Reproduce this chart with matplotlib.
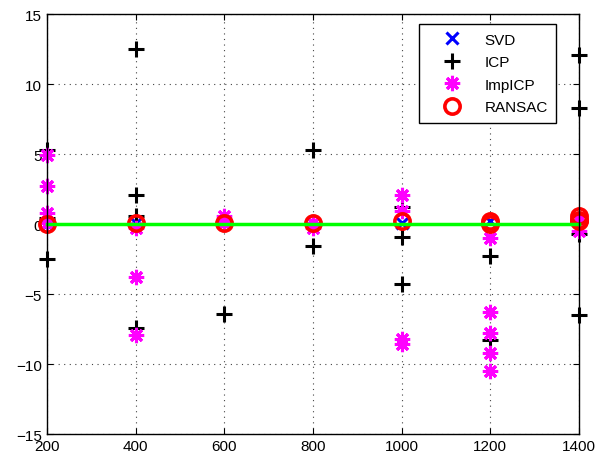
import numpy as np
import matplotlib.pyplot as plt

plt.rcParams['font.family'] = ['Liberation Sans', 'DejaVu Sans']

# x positions / values
svd_x = [200, 400, 600, 800, 1000, 1200, 1400]
svd_y = [0.0, 0.1, 0.1, 0.1, 0.1, 0.2, 0.3]

icp_x = [200, 200, 200, 400, 400, 400, 400, 600, 600, 800, 800, 800,
         1000, 1000, 1000, 1200, 1200, 1400, 1400, 1400, 1400]
icp_y = [5.3, 0.4, -2.5, 12.5, 2.1, 0.6, -7.4, 0.1, -6.4, 5.3, -1.6, 0.1,
         1.2, -0.9, -4.3, -2.3, -8.3, 12.1, 8.3, -0.7, -6.5]

imp_x = [200, 200, 200, 200, 400, 400, 400, 600, 600, 800, 800,
         1000, 1000, 1000, 1000, 1200, 1200, 1200, 1200, 1200, 1400, 1400]
imp_y = [4.9, 2.7, 0.8, 0.1, -0.3, -3.8, -7.9, 0.6, 0.1, 0.1, -0.3,
         2.1, 0.9, -8.2, -8.6, -1.0, -6.3, -7.8, -9.2, -10.5, -0.5, 0.3]

ransac_x = [200, 400, 600, 800, 1000, 1200, 1200, 1400, 1400, 1400]
ransac_y = [0.0, 0.1, 0.1, 0.1, 0.2, 0.2, 0.0, 0.6, 0.3, 0.2]

line_x = [200, 1400]
line_y = [0, 0]

fig = plt.figure(figsize=(6.14, 4.56), dpi=100)
ax = fig.add_axes([0.0765, 0.046, 0.8665, 0.921])

asterisk = (8, 2, 0)
ax.plot(svd_x, svd_y, 'x', color='blue', ms=8, mew=2.2, label='SVD',
        linestyle='none', clip_on=False)
ax.plot(icp_x, icp_y, '+', color='black', ms=11.5, mew=2.2, label='ICP',
        linestyle='none', clip_on=False)
ax.plot(imp_x, imp_y, marker=asterisk, color='magenta', ms=11, mew=2.2,
        label='ImpICP', linestyle='none', clip_on=False)
ax.plot(ransac_x, ransac_y, 'o', mfc='none', mec='red', ms=11, mew=2.6,
        label='RANSAC', linestyle='none', clip_on=False)
ax.plot(line_x, line_y, '-', color='#00ff00', lw=2.5, clip_on=False)

ax.set_xlim(200, 1400)
ax.set_ylim(-15, 15)
ax.set_xticks(np.arange(200, 1401, 200))
ax.set_yticks(np.arange(-15, 16, 5))
ax.grid(True, linestyle=(0, (1, 4)), color='#444444', linewidth=0.8)
ax.tick_params(direction='in', top=True, right=True, labelsize=11,
               length=4)
for s in ax.spines.values():
    s.set_linewidth(1)

leg = ax.legend(loc='upper right', bbox_to_anchor=(0.957, 0.976),
                fontsize=11, fancybox=False, edgecolor='black',
                framealpha=1, handletextpad=0.5, borderpad=0.55,
                labelspacing=0.56, handlelength=3.2, borderaxespad=0)
leg.get_frame().set_linewidth(1)

fig.savefig('out.png', dpi=100)
